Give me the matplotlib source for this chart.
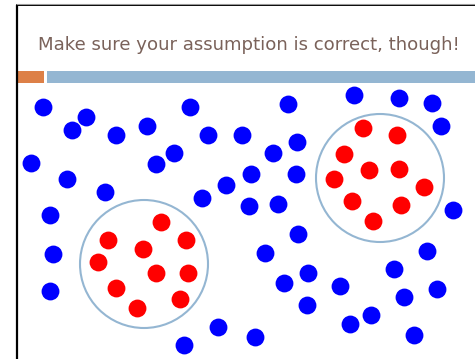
import matplotlib
matplotlib.use("Agg")
import matplotlib.pyplot as plt
from matplotlib.patches import Circle, Rectangle

title = "Make sure your assumption is correct, though!"

blue_x = [43, 86, 72, 116, 147, 190, 208, 31, 174, 156, 67, 105, 226, 202, 50, 53, 50, 218, 184,
          288, 354, 399, 432, 441, 242, 297, 273, 251, 296, 249, 278, 453, 298, 265, 427, 394,
          308, 284, 340, 437, 404, 307, 371, 350, 255, 414]
blue_y = [107, 117, 130, 135, 126, 107, 135, 163, 153, 164, 179, 192, 185, 198, 215, 254, 291, 327, 345,
          104, 95, 98, 103, 126, 135, 142, 153, 174, 174, 206, 204, 210, 234, 253, 251, 269,
          273, 283, 286, 289, 297, 305, 315, 324, 337, 335]

red1_x = [161, 108, 186, 143, 98, 156, 188, 116, 180, 137]
red1_y = [222, 240, 240, 249, 262, 273, 273, 288, 299, 308]
red2_x = [363, 397, 344, 369, 399, 334, 424, 352, 401, 373]
red2_y = [128, 135, 154, 170, 169, 179, 187, 201, 205, 221]

cluster_cx = [144, 380]
cluster_cy = [264, 178]
cluster_r = [64, 64]

W, H = 475, 359
fig = plt.figure(figsize=(W / 100, H / 100), dpi=100)
ax = fig.add_axes([0, 0, 1, 1])
ax.set_xlim(0, W)
ax.set_ylim(H, 0)
ax.axis("off")

# slide frame
ax.plot([17, 17], [5, H], color="black", lw=1.6, solid_capstyle="butt")
ax.plot([16, W], [5, 5], color="black", lw=1.4, solid_capstyle="butt")
ax.plot([16, W], [4, 4], color="#999999", lw=0.8, solid_capstyle="butt")

# header bars
ax.add_patch(Rectangle((18.3, 71), 25.4, 11.7, color="#dd8047", lw=0))
ax.add_patch(Rectangle((46.7, 71), W - 46.7, 11.7, color="#94b6d2", lw=0))

t = ax.text(38, 50, title, fontsize=13.6, color="#7a625a", family="DejaVu Sans",
            ha="left", va="baseline")
fig.canvas.draw()
w = t.get_window_extent(fig.canvas.get_renderer()).width
t.set_fontsize(13.6 * 425.0 / w)

for cx, cy, r in zip(cluster_cx, cluster_cy, cluster_r):
    ax.add_patch(Circle((cx, cy), r, fill=False, ec="#94b6d2", lw=1.5))

s = 165
ax.scatter(blue_x, blue_y, s=s, color="#0000ff", lw=0, zorder=3)
ax.scatter(red1_x + red2_x, red1_y + red2_y, s=s, color="#ff0000", lw=0, zorder=3)

fig.savefig("out.png", dpi=100)
